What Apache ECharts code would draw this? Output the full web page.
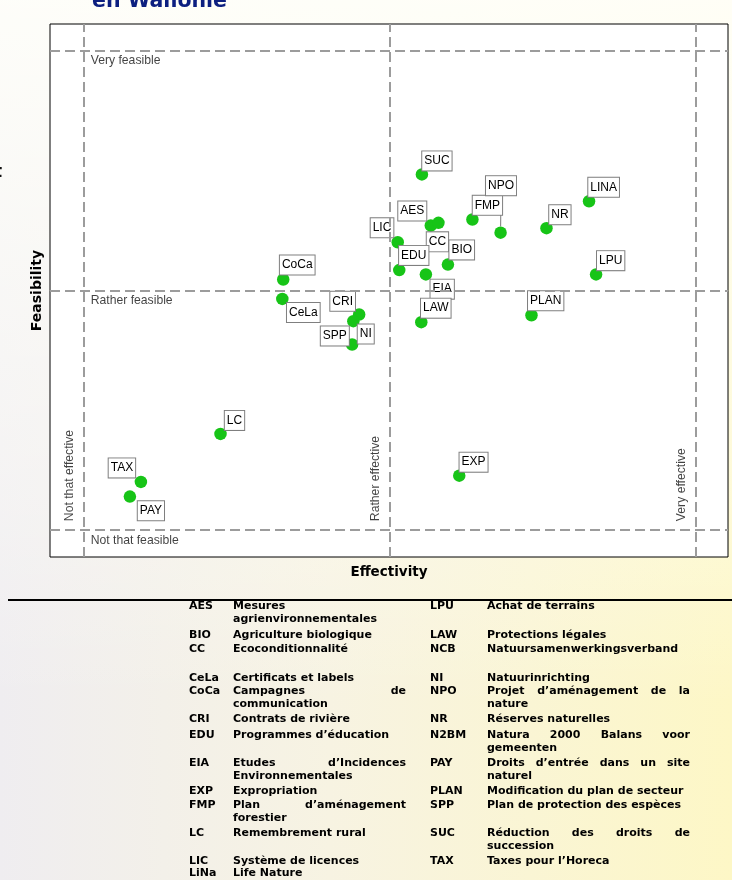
<!DOCTYPE html>
<html>
<head>
<meta charset="utf-8">
<script src="https://cdn.jsdelivr.net/npm/echarts@6/dist/echarts.min.js"></script>
<style>
html,body{margin:0;padding:0;width:732px;height:880px;overflow:hidden}
body{background:linear-gradient(to bottom, rgba(255,255,250,0.92) 0%, rgba(255,255,250,0.35) 55%, rgba(255,255,250,0) 80%), linear-gradient(to right, #efedf0 0%, #f7f3e2 45%, #fdf7c6 100%);}
#c{width:732px;height:880px}
</style>
</head>
<body>
<div id="c"></div>
<script>
// ---- data ----
const names = ['SUC','AES','CC','LIC','EDU','BIO','EIA','LAW','CoCa','CeLa','CRI','NI','SPP','FMP','NPO','NR','LINA','LPU','PLAN','LC','TAX','PAY','EXP'];
const effectivity = [2.105,2.134,2.159,2.026,2.031,2.190,2.118,2.103,1.652,1.649,1.900,1.881,1.877,2.270,2.362,2.512,2.651,2.674,2.463,1.447,1.187,1.151,2.227];
const feasibility = [2.483,2.270,2.281,2.200,2.084,2.107,2.066,1.867,2.045,1.964,1.899,1.871,1.774,2.295,2.240,2.259,2.371,2.066,1.896,1.401,1.201,1.140,1.227];

const effectivityLevels = [1, 2, 3];
const effectivityLevelLabels = ['Not that effective', 'Rather effective', 'Very effective'];
const feasibilityLevels = [1, 2, 3];
const feasibilityLevelLabels = ['Not that feasible', 'Rather feasible', 'Very feasible'];

const legendLeftAbbr = ['AES','BIO','CC','CeLa','CoCa','CRI','EDU','EIA','EXP','FMP','LC','LIC','LiNa'];
const legendLeftText = [
  ['Mesures','agrienvironnementales'],
  ['Agriculture biologique'],
  ['Ecoconditionnalité'],
  ['Certificats et labels'],
  ['Campagnes de','communication'],
  ['Contrats de rivière'],
  ['Programmes d\u2019éducation'],
  ['Etudes d\u2019Incidences','Environnementales'],
  ['Expropriation'],
  ['Plan d\u2019aménagement','forestier'],
  ['Remembrement rural'],
  ['Système de licences'],
  ['Life Nature']
];
const legendRightAbbr = ['LPU','LAW','NCB','NI','NPO','NR','N2BM','PAY','PLAN','SPP','SUC','TAX'];
const legendRightText = [
  ['Achat de terrains'],
  ['Protections légales'],
  ['Natuursamenwerkingsverband'],
  ['Natuurinrichting'],
  ['Projet d\u2019aménagement de la','nature'],
  ['Réserves naturelles'],
  ['Natura 2000 Balans voor','gemeenten'],
  ['Droits d\u2019entrée dans un site','naturel'],
  ['Modification du plan de secteur'],
  ['Plan de protection des espèces'],
  ['Réduction des droits de','succession'],
  ['Taxes pour l\u2019Horeca']
];

// ---- layout (not data) ----
const labelOffsets = {
  SUC:[15,-13.5], AES:[-18.5,-14.5], CC:[-1,19], LIC:[-15.7,-14.5], EDU:[14.5,-14.7],
  BIO:[13.8,-14.7], EIA:[16.3,14.7], LAW:[14.5,-14], CoCa:[14,-14.5], CeLa:[21,13.5],
  CRI:[-16.5,-13.2], NI:[12.4,12.8], SPP:[-17.3,-8.5], FMP:[15,-14.2], NPO:[0.4,-47],
  NR:[13.4,-13.4], LINA:[14.6,-14], LPU:[14.6,-13.8], PLAN:[14.2,-14.5], LC:[14,-13.5],
  TAX:[-19,-14], PAY:[21,14.2], EXP:[14.3,-13.5]
};
const leaderLines = {NPO: true};
const legendRowY = [606,635,649,678,691,719,735,763,791,805,833,861,873];
const legendLineH = 13.5;
const LEG = {leftAbbrX:189, leftTextX:233, leftRight:406, rightAbbrX:430, rightTextX:487, rightRight:690};

const chart = echarts.init(document.getElementById('c'), null, {renderer:'canvas'});

const LEGFONT = 'bold 11px "DejaVu Sans"';
const ctx = document.createElement('canvas').getContext('2d');
ctx.font = LEGFONT;
const mw = t => ctx.measureText(t).width;

const graphics = [];
function txt(x, y, t, extra) {
  graphics.push(Object.assign({
    type:'text', x:x, y:y, silent:true, z:10,
    style:{text:t, font:LEGFONT, fill:'#000', verticalAlign:'middle', align:'left'}
  }, extra || {}));
}
function line(x, right, y, t, justify) {
  const words = t.split(' ');
  if (!justify || words.length < 2) { txt(x, y, t); return; }
  const total = words.reduce((s,w)=>s+mw(w),0);
  const gap = (right - x - total) / (words.length - 1);
  let cx = x;
  words.forEach(w => { txt(cx, y, w); cx += mw(w) + gap; });
}
function column(abbrs, texts, abbrX, textX, right) {
  abbrs.forEach((a,i) => {
    const y = legendRowY[i];
    txt(abbrX, y, a);
    texts[i].forEach((l,j) => line(textX, right, y + j*legendLineH, l, j < texts[i].length-1));
  });
}
column(legendLeftAbbr, legendLeftText, LEG.leftAbbrX, LEG.leftTextX, LEG.leftRight);
column(legendRightAbbr, legendRightText, LEG.rightAbbrX, LEG.rightTextX, LEG.rightRight);

graphics.push({type:'line', silent:true, z:10, shape:{x1:8,y1:600,x2:732,y2:600}, style:{stroke:'#000', lineWidth:2}});
graphics.push({type:'text', x:92, y:-9, silent:true, z:10,
  style:{text:'en Wallonie', font:'bold 20.5px "DejaVu Sans"', fill:'#0c1f80', verticalAlign:'top', align:'left'}});
graphics.push({type:'text', x:-6, y:164, silent:true, z:10,
  style:{text:'t', font:'bold 17px "DejaVu Sans"', fill:'#111', verticalAlign:'top', align:'left'}});

const pointData = names.map((n,i) => {
  const item = {
    name:n, value:[effectivity[i], feasibility[i]],
    label:{offset: labelOffsets[n]}
  };
  if (leaderLines[n]) item.labelLine = {show:true, lineStyle:{color:'#7a7a7a', width:1}};
  return item;
});

const markLineData = effectivityLevels.map(v=>({xAxis:v})).concat(feasibilityLevels.map(v=>({yAxis:v})));

const option = {
  animation:false,
  backgroundColor:'transparent',
  grid:{left:50, top:24, width:678, height:533, show:true, backgroundColor:'#ffffff', borderColor:'#000', borderWidth:1},
  xAxis:{
    type:'value', min:0.89, max:3.105,
    axisLabel:{show:false}, axisTick:{show:false}, axisLine:{show:false}, splitLine:{show:false},
    name:'Effectivity', nameLocation:'middle', nameGap:8,
    nameTextStyle:{fontFamily:'DejaVu Sans', fontWeight:'bold', fontSize:13.5, color:'#000', verticalAlign:'top'}
  },
  yAxis:{
    type:'value', min:0.888, max:3.11,
    axisLabel:{show:false}, axisTick:{show:false}, axisLine:{show:false}, splitLine:{show:false},
    name:'Feasibility', nameLocation:'middle', nameGap:6, nameRotate:90,
    nameTextStyle:{fontFamily:'DejaVu Sans', fontWeight:'bold', fontSize:14, color:'#000'}
  },
  graphic:{elements:graphics},
  series:[
    {
      type:'scatter', z:3,
      symbol:'circle', symbolSize:12.5,
      itemStyle:{color:'#17c417', opacity:1},
      label:{
        show:true, position:'inside', formatter:'{b}',
        fontFamily:'Liberation Sans, Arial', fontSize:12, color:'#000',
        backgroundColor:'#fff', borderColor:'#7f7f7f', borderWidth:1,
        padding:[3,2,2,2], lineHeight:14, align:'center', verticalAlign:'middle'
      },
      labelLine:{show:false},
      data:pointData,
      markLine:{
        silent:true, symbol:['none','none'], label:{show:false},
        lineStyle:{type:[10,5], color:'#9c9c9c', width:2},
        emphasis:{disabled:true},
        data:markLineData
      }
    },
    {
      type:'scatter', z:2, silent:true, symbolSize:1,
      itemStyle:{color:'rgba(0,0,0,0)'},
      label:{show:true, position:'inside', formatter:'{b}', align:'left', verticalAlign:'middle',
        offset:[7,10], fontFamily:'Liberation Sans, Arial', fontSize:12.2, color:'#111'},
      data:feasibilityLevels.map((v,i)=>({name:feasibilityLevelLabels[i], value:[effectivityLevels[0], v]}))
    },
    {
      type:'scatter', z:2, silent:true, symbolSize:1,
      itemStyle:{color:'rgba(0,0,0,0)'},
      label:{show:true, position:'inside', formatter:'{b}', align:'left', verticalAlign:'middle', rotate:90,
        offset:[9,-14], fontFamily:'Liberation Sans, Arial', fontSize:12.2, color:'#111'},
      data:effectivityLevels.map((v,i)=>({name:effectivityLevelLabels[i], value:[v, feasibilityLevels[0]]}))
    }
  ]
};
chart.setOption(option);
</script>
</body>
</html>
